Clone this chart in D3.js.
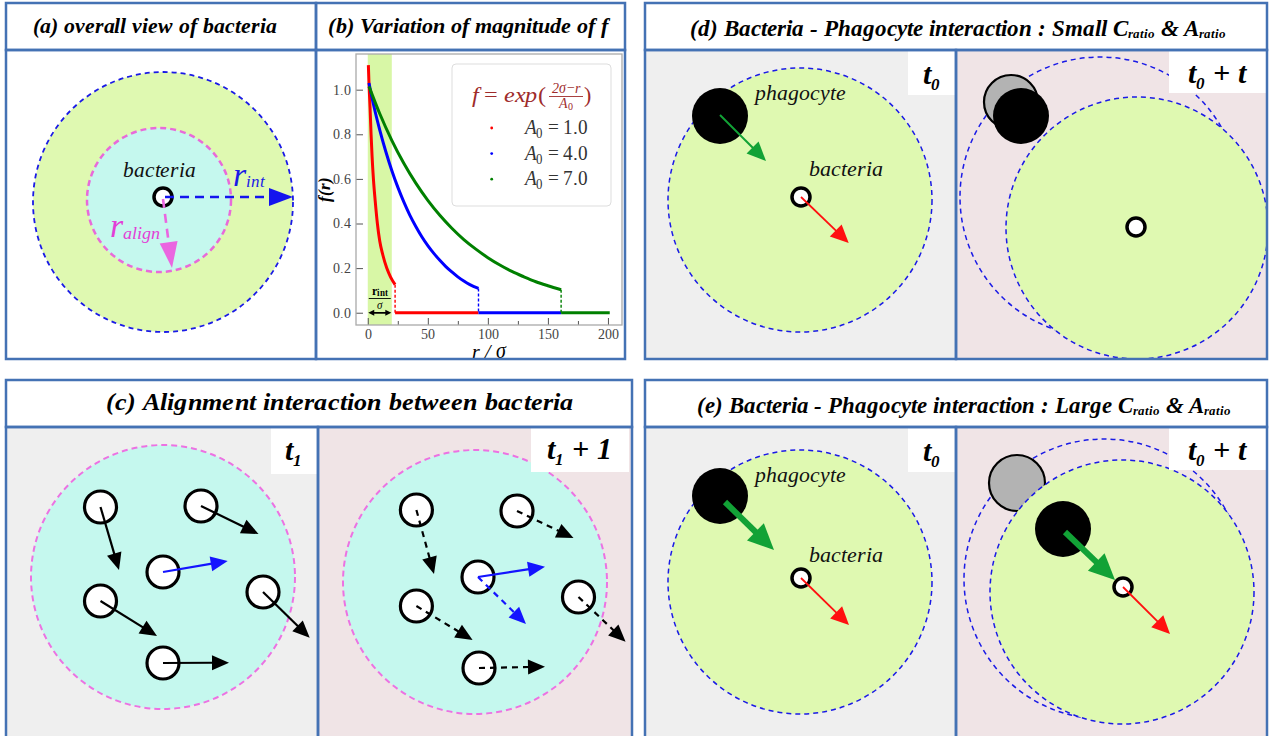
<!DOCTYPE html>
<html><head><meta charset="utf-8">
<script src="https://cdnjs.cloudflare.com/ajax/libs/d3/7.8.5/d3.min.js"></script>
<style>
@font-face{font-family:"FigSerif";font-style:normal;font-weight:400;src:local("Liberation Serif"),local("LiberationSerif"),local("DejaVu Serif"),local("DejaVuSerif");}
@font-face{font-family:"FigSerif";font-style:italic;font-weight:400;src:local("Liberation Serif Italic"),local("LiberationSerif-Italic"),local("DejaVu Serif Italic"),local("DejaVuSerif-Italic");}
@font-face{font-family:"FigSerif";font-style:normal;font-weight:700;src:local("Liberation Serif Bold"),local("LiberationSerif-Bold"),local("DejaVu Serif Bold"),local("DejaVuSerif-Bold");}
@font-face{font-family:"FigSerif";font-style:italic;font-weight:700;src:local("Liberation Serif Bold Italic"),local("LiberationSerif-BoldItalic"),local("DejaVu Serif Bold Italic"),local("DejaVuSerif-BoldItalic");}
body{margin:0;background:#fff}svg{display:block}
</style>
</head><body>
<svg id="fig" width="1272" height="736"></svg>
<script>
// ================= DATA =================
// panel (b): f(r) curves
const xTicks = [0, 50, 100, 150, 200];
const xMinorTicks = [25, 75, 125, 175];
const yTicks = [0, 0.2, 0.4, 0.6, 0.8, 1.0];
const A0Labels = ["1.0", "4.0", "7.0"];
const seriesColors = ["#ff0000", "#0000ff", "#008000"];
const rRed   = [0.5, 1.0, 1.9, 2.75, 3.6, 4.7, 6.2, 8.0, 10.0, 12.5, 15.8, 19.0, 22.75];
const fRed   = [1.11, 1.03, 0.92, 0.80, 0.70, 0.60, 0.50, 0.40, 0.32, 0.26, 0.20, 0.16, 0.126];
const rBlue  = [1, 5, 10, 15, 20, 25, 30, 35, 40, 45, 50, 55, 60, 65, 70, 75, 80, 85, 92.2];
const fBlue  = [1.03, 0.928, 0.819, 0.723, 0.638, 0.563, 0.497, 0.438, 0.387, 0.341, 0.301, 0.266, 0.235, 0.207, 0.183, 0.161, 0.142, 0.126, 0.109];
const rGreen = [1, 10, 20, 30, 40, 50, 60, 70, 80, 90, 100, 110, 120, 130, 140, 150, 161];
const fGreen = [1.015, 0.892, 0.773, 0.670, 0.581, 0.504, 0.437, 0.379, 0.328, 0.285, 0.247, 0.214, 0.185, 0.161, 0.139, 0.121, 0.103];
const cutoffR = [22.75, 92.2, 161];
const cutoffF = [0.126, 0.109, 0.103];
const zeroEnd = [92.2, 161, 201.5];
const rIntBand = [0, 20];

// panel (a) geometry (local units)
const aOuter = [157, 152, 130];
const aInner = [153, 150, 72];
const aBact = [157, 147, 9];
const aIntArrow = [[159, 147], [287, 147]];
const aAlignArrow = [[157, 149], [166, 218]];

// panel (c) bacteria (local units) and velocity tips
const cBig = [[157, 150, 132], [157, 155, 132]];
const cPos1 = [[94.5, 80], [195, 79], [157, 145], [94.5, 174], [257, 165], [157, 236]];
const cTip1 = [[113, 143], [252.5, 107], [221.7, 134], [151, 209], [303.7, 210.7], [223, 235.7]];
const cCol1 = ["k", "k", "b", "k", "k", "k"];
const cPos2 = [[98.4, 83], [199, 84], [160, 150], [98.4, 179], [260.5, 170], [161, 241]];
const cTip2 = [[116, 147], [255.5, 111], [208, 197], [154.6, 213], [307.6, 214.7], [227, 239.7]];
const cCol2 = ["k", "k", "b", "k", "k", "k"];
const cExtraBlue = [[160, 150], [227, 139.7]];

// panels (d) and (e): [t0 subpanel, t0+t subpanel]
const dZone = [[155, 150, 132], [181, 178, 131]];
const dOldZone = [144, 147, 140];
const dPhago = [[75, 66, 28], [65, 66, 28]];
const dGhost = [55, 52, 27];
const dBact = [[156, 147], [180, 177]];
const dPhagoArrow = [[75, 65], [121, 111]];
const dBactArrow = [[156, 147], [203.7, 193]];

const eZone = [[155, 155, 132], [166, 165, 132]];
const eOldZone = [148, 152, 140];
const ePhago = [[75, 69, 28], [107, 102, 28]];
const eGhost = [61, 56, 28];
const eBact = [[156, 151], [167, 160]];
const ePhagoArrow = [[[80, 75], [129, 123]], [[109, 105], [159, 153]]];
const eBactArrow = [[[156, 151], [204, 198]], [[167, 160], [214, 207]]];

// ================= STYLE =================
const SERIF = "FigSerif, \"Liberation Serif\", \"DejaVu Serif\", serif";
const BORDER = "#4472b4";
const GREENFILL = "#dff9b1";
const CYANFILL = "#c5f8ee";
const GRAYBG = "#efefef";
const PINKBG = "#f0e4e6";

const svg = d3.select("#fig");

function fit(t, x, width) {
  const w = t.node().getBBox().width;
  t.attr("transform", `translate(${x},0) scale(${width / w},1) translate(${-x},0)`);
}
function txt(g, x, y) {
  return g.append("text").attr("x", x).attr("y", y).attr("font-family", SERIF).style("font-family", SERIF);
}
function arrow(g, p1, p2, o) {
  const dx = p2[0] - p1[0], dy = p2[1] - p1[1], L = Math.hypot(dx, dy), ux = dx / L, uy = dy / L;
  const bx = p2[0] - ux * o.hl, by = p2[1] - uy * o.hl;
  g.append("line").attr("x1", p1[0]).attr("y1", p1[1]).attr("x2", bx + ux).attr("y2", by + uy)
    .attr("stroke", o.color).attr("stroke-width", o.w).attr("stroke-dasharray", o.dash || null);
  g.append("path").attr("d", `M${p2[0]},${p2[1]}L${bx - uy * o.hw / 2},${by + ux * o.hw / 2}L${bx + uy * o.hw / 2},${by - ux * o.hw / 2}Z`)
    .attr("fill", o.color);
}
function localScales(x0, y0, w, h) {
  return [d3.scaleLinear().domain([0, w]).range([x0, x0 + w]), d3.scaleLinear().domain([0, h]).range([y0, y0 + h])];
}
let clipId = 0;
function subpanel(x0, y0, w, h, fill) {
  const id = "clip" + (clipId++);
  svg.append("clipPath").attr("id", id).append("rect").attr("x", x0).attr("y", y0).attr("width", w).attr("height", h);
  svg.append("rect").attr("x", x0).attr("y", y0).attr("width", w).attr("height", h).attr("fill", fill);
  return svg.append("g").attr("clip-path", `url(#${id})`);
}
function frame(x, y, w, h) {
  svg.append("rect").attr("x", x).attr("y", y).attr("width", w).attr("height", h)
    .attr("fill", "none").attr("stroke", BORDER).attr("stroke-width", 2.5);
}
function timeLabel(g, bx, by, bw, bh, tx, ty, sub, rest) {
  g.append("rect").attr("x", bx).attr("y", by).attr("width", bw).attr("height", bh).attr("fill", "#fff");
  const t = txt(g, tx, ty).attr("font-style", "italic").attr("font-weight", "bold").attr("font-size", 30).attr("fill", "#000");
  t.append("tspan").text("t");
  t.append("tspan").attr("font-size", 17).attr("dy", 6).text(sub);
  if (rest) t.append("tspan").attr("dy", -6).text(rest);
}

function draw() {
// ================= PANEL (a) =================
{
  const g = subpanel(6, 50, 310, 309, "#fff");
  const [sx, sy] = localScales(6, 50, 310, 309);
  g.append("circle").attr("cx", sx(aOuter[0])).attr("cy", sy(aOuter[1])).attr("r", aOuter[2])
    .attr("fill", GREENFILL).attr("stroke", "#1a1ae6").attr("stroke-width", 1.8).attr("stroke-dasharray", "5,4");
  g.append("circle").attr("cx", sx(aInner[0])).attr("cy", sy(aInner[1])).attr("r", aInner[2])
    .attr("fill", CYANFILL).attr("stroke", "#e86ad9").attr("stroke-width", 2.5).attr("stroke-dasharray", "6,4");
  g.append("circle").attr("cx", sx(aBact[0])).attr("cy", sy(aBact[1])).attr("r", aBact[2])
    .attr("fill", "#fff").attr("stroke", "#000").attr("stroke-width", 3.5);
  arrow(g, [sx(aIntArrow[0][0]), sy(aIntArrow[0][1])], [sx(aIntArrow[1][0]), sy(aIntArrow[1][1])],
    { color: "#1414ee", w: 2.6, hl: 24, hw: 18, dash: "9,6" });
  arrow(g, [sx(aAlignArrow[0][0]), sy(aAlignArrow[0][1])], [sx(aAlignArrow[1][0]), sy(aAlignArrow[1][1])],
    { color: "#ea66e0", w: 2.6, hl: 26, hw: 18, dash: "9,6" });
  const bt = txt(g, sx(117), sy(127)).attr("font-style", "italic").attr("font-size", 22).attr("fill", "#111").text("bacteria");
  fit(bt, sx(117), 72);
  const ri = txt(g, sx(227), sy(136)).attr("font-style", "italic").attr("fill", "#1a1ae6");
  ri.append("tspan").attr("font-size", 34).text("r");
  ri.append("tspan").attr("font-size", 17).attr("dy", 1).text("int");
  const ra = txt(g, sx(104), sy(187)).attr("font-style", "italic").attr("fill", "#e23fd6");
  ra.append("tspan").attr("font-size", 34).text("r");
  ra.append("tspan").attr("font-size", 18).attr("dy", 2).text("align");
}

// ================= PANEL (b) =================
{
  svg.append("rect").attr("x", 316).attr("y", 50).attr("width", 309).attr("height", 309).attr("fill", "#fff");
  const x = d3.scaleLinear().domain([-9.8, 211.7]).range([356, 622]);
  const y = d3.scaleLinear().domain([-0.055, 1.16]).range([325, 54]);
  const g = svg.append("g");
  g.append("rect").attr("x", x(rIntBand[0])).attr("y", 54).attr("width", x(rIntBand[1]) - x(rIntBand[0])).attr("height", 271)
    .attr("fill", "#d8f7a6");
  const ax = g.append("g").attr("transform", "translate(0,325)")
    .call(d3.axisBottom(x).tickValues(xTicks).tickSize(-7).tickPadding(4).tickFormat(d3.format("d")));
  const axm = g.append("g").attr("transform", "translate(0,325)")
    .call(d3.axisBottom(x).tickValues(xMinorTicks).tickSize(-4).tickFormat(""));
  const ay = g.append("g").attr("transform", "translate(356,0)")
    .call(d3.axisLeft(y).tickValues(yTicks).tickSize(-7).tickPadding(5).tickFormat(d3.format(".1f")));
  [ax, axm, ay].forEach(a => {
    a.attr("font-family", SERIF);
    a.select(".domain").remove();
    a.selectAll("line").attr("stroke", "#555");
    a.selectAll("text").attr("font-family", SERIF).style("font-family", SERIF).attr("font-size", 14).attr("fill", "#444");
  });
  g.append("rect").attr("x", 356).attr("y", 54).attr("width", 266).attr("height", 271)
    .attr("fill", "none").attr("stroke", "#aaa").attr("stroke-width", 1.3);
  const line = d3.line().x(d => x(d[0])).y(d => y(d[1])).curve(d3.curveMonotoneX);
  const series = [d3.zip(rRed, fRed), d3.zip(rBlue, fBlue), d3.zip(rGreen, fGreen)];
  series.forEach((s, i) => {
    g.append("path").datum(s).attr("d", line).attr("fill", "none").attr("stroke", seriesColors[i]).attr("stroke-width", 3);
    g.append("line").attr("x1", x(cutoffR[i])).attr("x2", x(cutoffR[i])).attr("y1", y(cutoffF[i])).attr("y2", y(0))
      .attr("stroke", seriesColors[i]).attr("stroke-width", 1.4).attr("stroke-dasharray", "3,2");
    g.append("line").attr("x1", x(cutoffR[i])).attr("x2", x(zeroEnd[i])).attr("y1", y(0)).attr("y2", y(0))
      .attr("stroke", seriesColors[i]).attr("stroke-width", 3);
  });
  const y0 = y(0);
  arrow(g, [x(rIntBand[1]) - 6, y0], [x(rIntBand[0]) + 0.5, y0], { color: "#000", w: 1.5, hl: 6, hw: 6 });
  arrow(g, [x(rIntBand[0]) + 6, y0], [x(rIntBand[1]) - 0.5, y0], { color: "#000", w: 1.5, hl: 6, hw: 6 });
  const cx = (x(rIntBand[0]) + x(rIntBand[1])) / 2;
  const num = txt(g, cx, 295).attr("text-anchor", "middle").attr("font-weight", "bold").attr("font-size", 12).attr("fill", "#000");
  num.append("tspan").text("r");
  num.append("tspan").attr("font-size", 9).attr("dy", 1).text("int");
  g.append("line").attr("x1", cx - 11).attr("x2", cx + 11).attr("y1", 298.5).attr("y2", 298.5).attr("stroke", "#000").attr("stroke-width", 0.9);
  txt(g, cx, 309).attr("text-anchor", "middle").attr("font-style", "italic").attr("font-size", 11).text("σ");
  txt(g, 0, 0).attr("transform", "translate(330,189) rotate(-90)").attr("text-anchor", "middle")
    .attr("font-style", "italic").attr("font-weight", "bold").attr("font-size", 17).text("f(r)");
  txt(g, 489, 358).attr("text-anchor", "middle").attr("font-style", "italic").attr("font-size", 20).text("r / σ");
  // legend
  g.append("rect").attr("x", 452).attr("y", 64).attr("width", 159).attr("height", 142).attr("rx", 4)
    .attr("fill", "#fff").attr("fill-opacity", 0.85).attr("stroke", "#ddd").attr("stroke-width", 1);
  const RED = "#9e2b2b";
  const ft = txt(g, 471.7, 102).attr("font-size", 22).attr("fill", RED);
  ft.append("tspan").attr("font-style", "italic").text("f");
  ft.append("tspan").text(" = ");
  ft.append("tspan").attr("font-style", "italic").text("exp");
  ft.append("tspan").text("(");
  fit(ft, 471.7, 75);
  txt(g, 566, 93).attr("text-anchor", "middle").attr("font-style", "italic").attr("font-size", 14).attr("fill", RED).text("2σ−r");
  g.append("line").attr("x1", 549).attr("x2", 583).attr("y1", 96.5).attr("y2", 96.5).attr("stroke", RED).attr("stroke-width", 0.9);
  const den = txt(g, 566, 108).attr("text-anchor", "middle").attr("font-size", 14).attr("fill", RED);
  den.append("tspan").attr("font-style", "italic").text("A");
  den.append("tspan").attr("font-size", 10).attr("dy", 2).text("0");
  txt(g, 584, 102).attr("font-size", 22).attr("fill", RED).text(")");
  A0Labels.forEach((lab, i) => {
    const yy = 128 + i * 25.6;
    g.append("circle").attr("cx", 491.7).attr("cy", yy).attr("r", 1.4).attr("fill", seriesColors[i]);
    const t = txt(g, 525, yy + 6).attr("font-size", 21).attr("fill", "#333");
    t.append("tspan").attr("font-style", "italic").text("A");
    t.append("tspan").attr("font-size", 14).attr("dy", 4).text("0");
    t.append("tspan").attr("dy", -4).text(" = " + lab);
    fit(t, 525, 65);
  });
}

// ================= PANEL (c) =================
[[6, 312, GRAYBG, cPos1, cTip1, cCol1, null, "1", null], [318, 314, PINKBG, cPos2, cTip2, cCol2, "6,5", "1", " + 1"]]
  .forEach(([x0, w, bg, pos, tip, col, dash, sub, rest], k) => {
    const g = subpanel(x0, 427, w, 320, bg);
    const [sx, sy] = localScales(x0, 427, w, 320);
    const b = cBig[k];
    g.append("circle").attr("cx", sx(b[0])).attr("cy", sy(b[1])).attr("r", b[2]).attr("fill", CYANFILL)
      .attr("stroke", "#ec72e2").attr("stroke-width", 2).attr("stroke-dasharray", "6,4");
    pos.forEach(p => g.append("circle").attr("cx", sx(p[0])).attr("cy", sy(p[1])).attr("r", 16)
      .attr("fill", "#fff").attr("stroke", "#000").attr("stroke-width", 3.2));
    pos.forEach((p, i) => arrow(g, [sx(p[0]), sy(p[1])], [sx(tip[i][0]), sy(tip[i][1])],
      { color: col[i] === "b" ? "#1414ff" : "#000", w: 2.2, hl: 17, hw: 15, dash: dash }));
    if (k === 1) arrow(g, [sx(cExtraBlue[0][0]), sy(cExtraBlue[0][1])], [sx(cExtraBlue[1][0]), sy(cExtraBlue[1][1])],
      { color: "#1414ff", w: 2.2, hl: 17, hw: 15 });
    if (k === 0) timeLabel(g, 271, 428, 47, 46, 285, 460, sub, rest);
    else timeLabel(g, 531, 428, 98, 44, 547, 459, sub, rest);
  });

// ================= PANELS (d) and (e) =================
function phagoPanel(y0, zone, oldZone, phago, ghost, bact, phagoArrows, bactArrows, thick) {
  [[645, 311, GRAYBG], [956, 311, PINKBG]].forEach(([x0, w, bg], k) => {
    const h = y0 < 200 ? 309 : 320;
    const g = subpanel(x0, y0, w, h, bg);
    const [sx, sy] = localScales(x0, y0, w, h);
    if (k === 1) {
      g.append("circle").attr("cx", sx(oldZone[0])).attr("cy", sy(oldZone[1])).attr("r", oldZone[2])
        .attr("fill", "none").attr("stroke", "#1a1ae6").attr("stroke-width", 1.5).attr("stroke-dasharray", "5,4");
      g.append("circle").attr("cx", sx(ghost[0])).attr("cy", sy(ghost[1])).attr("r", ghost[2])
        .attr("fill", "#b3b3b3").attr("stroke", "#000").attr("stroke-width", 2.2);
    }
    const z = zone[k];
    g.append("circle").attr("cx", sx(z[0])).attr("cy", sy(z[1])).attr("r", z[2])
      .attr("fill", GREENFILL).attr("stroke", "#1a1ae6").attr("stroke-width", 1.5).attr("stroke-dasharray", "5,4");
    const p = phago[k];
    g.append("circle").attr("cx", sx(p[0])).attr("cy", sy(p[1])).attr("r", p[2]).attr("fill", "#000");
    const bc = bact[k];
    g.append("circle").attr("cx", sx(bc[0])).attr("cy", sy(bc[1])).attr("r", 9)
      .attr("fill", "#fff").attr("stroke", "#000").attr("stroke-width", 3.5);
    const pa = phagoArrows[k], ba = bactArrows[k];
    if (pa) arrow(g, [sx(pa[0][0]), sy(pa[0][1])], [sx(pa[1][0]), sy(pa[1][1])],
      thick ? { color: "#12a236", w: 6, hl: 26, hw: 24 } : { color: "#12a236", w: 2, hl: 19, hw: 17 });
    if (ba) arrow(g, [sx(ba[0][0]), sy(ba[0][1])], [sx(ba[1][0]), sy(ba[1][1])],
      { color: "#ff1010", w: 1.8, hl: 18, hw: 17 });
    if (k === 0) {
      const pt = txt(g, sx(110), sy(y0 < 200 ? 50 : 55)).attr("font-style", "italic").attr("font-size", 22).attr("fill", "#111").text("phagocyte");
      fit(pt, sx(110), 92);
      const bt = txt(g, sx(164), sy(y0 < 200 ? 126 : 135)).attr("font-style", "italic").attr("font-size", 22).attr("fill", "#111").text("bacteria");
      fit(bt, sx(164), 74);
      timeLabel(g, 908, y0 + 1, 48, 44, 923, y0 + 34, "0", null);
    } else {
      timeLabel(g, 1169, y0 + 1, 98, 42, 1188, y0 + 33, "0", " + t");
    }
  });
}
phagoPanel(50, dZone, dOldZone, dPhago, dGhost, dBact, [dPhagoArrow, null], [dBactArrow, null], false);
phagoPanel(427, eZone, eOldZone, ePhago, eGhost, eBact, ePhagoArrow, eBactArrow, true);

// ================= TITLES & FRAMES =================
function titleBox(x, y, w, h) {
  svg.append("rect").attr("x", x).attr("y", y).attr("width", w).attr("height", h).attr("fill", "#fff");
}
titleBox(6, 3, 310, 47); titleBox(316, 3, 309, 47); titleBox(645, 3, 622, 47);
titleBox(6, 380, 626, 47); titleBox(645, 380, 622, 47);
function title(x, y, size, width, parts) {
  const t = txt(svg, x, y).attr("font-style", "italic").attr("font-weight", "bold").attr("font-size", size).attr("fill", "#000");
  parts.forEach(p => {
    if (typeof p === "string") t.append("tspan").text(p);
    else t.append("tspan").attr("font-size", p.size).attr("dy", p.dy).text(p.text);
  });
  fit(t, x, width);
}
title(33, 33, 22, 242, ["(a) overall view of bacteria"]);
title(328.5, 33, 22, 283, ["(b) Variation of magnitude of  f"]);
title(106, 410, 25, 461, ["(c) Alignment interaction between bacteria"]);
title(690, 36, 23, 536, ["(d) Bacteria - Phagocyte interaction : Small  C", { text: "ratio", size: 13, dy: 2 },
  { text: " & A", size: 23, dy: -2 }, { text: "ratio", size: 13, dy: 2 }]);
title(697, 413, 23, 531, ["(e) Bacteria - Phagocyte interaction : Large C", { text: "ratio", size: 13, dy: 2 },
  { text: " & A", size: 23, dy: -2 }, { text: "ratio", size: 13, dy: 2 }]);

frame(6, 3, 310, 47); frame(316, 3, 309, 47); frame(6, 50, 310, 309); frame(316, 50, 309, 309);
frame(645, 3, 622, 47); frame(645, 50, 311, 309); frame(956, 50, 311, 309);
frame(6, 380, 626, 47); frame(6, 427, 312, 320); frame(318, 427, 314, 320);
frame(645, 380, 622, 47); frame(645, 427, 311, 320); frame(956, 427, 311, 320);
}

if (document.fonts && document.fonts.load) {
  Promise.all([
    document.fonts.load("22px FigSerif"), document.fonts.load("italic 22px FigSerif"),
    document.fonts.load("bold 22px FigSerif"), document.fonts.load("italic bold 22px FigSerif")
  ]).then(draw, draw);
} else draw();
</script>
</body></html>
